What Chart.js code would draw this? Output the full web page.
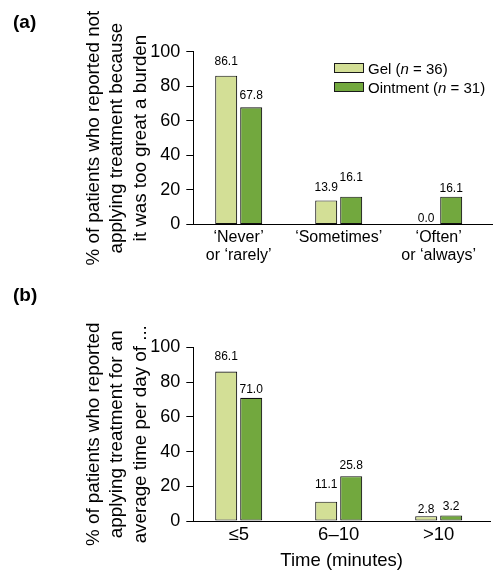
<!DOCTYPE html>
<html>
<head>
<meta charset="utf-8">
<script src="https://cdn.jsdelivr.net/npm/chart.js@4.4.1/dist/chart.umd.min.js"></script>
<style>
  body { margin: 0; background: #fff; font-family: "Liberation Sans", Arial, sans-serif; }
  #page { position: relative; width: 493px; height: 572px; overflow: hidden; }
  .panel { position: absolute; left: 13px; font-weight: bold; font-size: 19px; line-height: 19px; }
  .wrap { position: absolute; left: 0; width: 493px; }
  .key { position: absolute; width: 28px; height: 8px; border: 1px solid #1a1a1a; }
  .keytext { position: absolute; font-size: 15px; line-height: 15px; white-space: nowrap; }
</style>
</head>
<body>
<div id="page">
  <div class="wrap" style="top:0;height:280px"><canvas id="chartA"></canvas></div>
  <div class="wrap" style="top:280px;height:292px"><canvas id="chartB"></canvas></div>
  <div class="panel" style="top:12px">(a)</div>
  <div class="panel" style="top:285px">(b)</div>
  <div class="key" style="left:334px;top:63px;background:#d3df96"></div>
  <div class="keytext" style="left:368px;top:61px">Gel (<i>n</i> = 36)</div>
  <div class="key" style="left:334px;top:82px;background:#72a83e"></div>
  <div class="keytext" style="left:368px;top:80px">Ointment (<i>n</i> = 31)</div>
</div>
<script>
// DATA
var burdenCategories = [['\u2018Never\u2019', 'or \u2018rarely\u2019'], '\u2018Sometimes\u2019', ['\u2018Often\u2019', 'or \u2018always\u2019']];
var burdenGel = [86.1, 13.9, 0.0];
var burdenOintment = [67.8, 16.1, 16.1];

var timeCategories = ['\u22645', '6\u201310', '>10'];
var timeGel = [86.1, 11.1, 2.8];
var timeOintment = [71.0, 25.8, 3.2];

var yTicks = [0, 20, 40, 60, 80, 100];

// label nudges (px between bar top and value label)
var labelGapsA = [[10.7, 9.3, 3], [8.4, 16, 5]];
var labelGapsB = [[11.7, 14, 3], [4.4, 7.4, 5.7]];

var FONT = '"Liberation Sans", Arial, sans-serif';
var GEL = '#d3df96';
var OINT = '#72a83e';

Chart.defaults.color = '#000';
Chart.defaults.font.family = FONT;

function toPoints(values) {
  return values.map(function (v, i) { return {x: i, y: v}; });
}

// value labels above bars
var barValueLabels = {
  id: 'barValueLabels',
  afterDatasetsDraw: function (chart, args, opts) {
    var ctx = chart.ctx;
    ctx.save();
    ctx.font = '12px ' + FONT;
    ctx.fillStyle = '#000';
    ctx.textAlign = 'center';
    ctx.textBaseline = 'alphabetic';
    chart.data.datasets.forEach(function (ds, i) {
      chart.getDatasetMeta(i).data.forEach(function (bar, j) {
        var gap = opts.gaps ? opts.gaps[i][j] : 6;
        ctx.fillText(ds.data[j].y.toFixed(1), bar.x, bar.y - gap);
      });
    });
    ctx.restore();
  }
};

function makeChart(id, cfg) {
  return new Chart(document.getElementById(id), {
    type: 'bar',
    data: {
      datasets: [
        {
          label: 'Gel (n = 36)',
          data: toPoints(cfg.gel),
          backgroundColor: GEL,
          borderColor: '#111',
          borderWidth: 1.1,
          borderSkipped: false,
          categoryPercentage: 0.5,
          barPercentage: 0.88
        },
        {
          label: 'Ointment (n = 31)',
          data: toPoints(cfg.ointment),
          backgroundColor: OINT,
          borderColor: '#111',
          borderWidth: 1.1,
          borderSkipped: false,
          categoryPercentage: 0.5,
          barPercentage: 0.88
        }]
    },
    options: {
      responsive: true,
      maintainAspectRatio: false,
      animation: false,
      layout: { padding: { top: cfg.top, left: 80, right: cfg.right, bottom: 0 } },
      plugins: {
        legend: { display: false },
        tooltip: { enabled: false },
        barValueLabels: { gaps: cfg.gaps }
      },
      scales: {
        x: {
          type: 'linear',
          offset: false,
          min: -0.454,
          max: cfg.xMax,
          afterBuildTicks: function (axis) {
            axis.ticks = cfg.categories.map(function (c, i) { return {value: i}; });
          },
          afterFit: function (axis) { axis.height = cfg.xHeight; },
          ticks: {
            font: { size: cfg.xFont, lineHeight: cfg.xLine },
            padding: cfg.xPad,
            maxRotation: 0,
            autoSkip: false,
            callback: function (v) { return cfg.categories[v]; }
          },
          grid: { display: false, drawTicks: false, offset: false },
          border: { display: true, color: '#000', width: 1 },
          title: cfg.xTitle ? {
            display: true,
            text: cfg.xTitle,
            font: { size: 18.5, lineHeight: 1.08 },
            padding: { top: 0, bottom: 1.5 }
          } : { display: false }
        },
        y: {
          min: 0,
          max: 100,
          afterBuildTicks: function (axis) {
            var t = [];
            for (var v = 0; v <= 100; v += 10) t.push({value: v});
            axis.ticks = t;
          },
          afterFit: function (axis) { axis.width = 113.3; },
          ticks: {
            font: { size: 18 },
            padding: 6,
            callback: function (v) { return yTicks.indexOf(v) >= 0 ? String(v) : ''; }
          },
          grid: { drawOnChartArea: false, drawTicks: true, tickLength: 7, color: '#000' },
          border: { display: true, color: '#000', width: 1 },
          title: {
            display: true,
            text: cfg.yTitle,
            font: { size: 18.8, lineHeight: 1.25 },
            padding: { top: 1.6, bottom: 0 }
          }
        }
      }
    },
    plugins: [barValueLabels]
  });
}

makeChart('chartA', {
  categories: burdenCategories,
  gel: burdenGel,
  ointment: burdenOintment,
  gaps: labelGapsA,
  top: 51.7,
  right: 1,
  xMax: 2.533,
  xHeight: 55.5,
  xFont: 16,
  xLine: 1.1,
  xPad: 4.7,
  yTitle: ['% of patients who reported not', 'applying treatment because', 'it was too great a burden']
});

makeChart('chartB', {
  categories: timeCategories,
  gel: timeGel,
  ointment: timeOintment,
  gaps: labelGapsB,
  top: 67.5,
  right: 3,
  xMax: 2.513,
  xHeight: 51,
  xFont: 18.5,
  xLine: 1.08,
  xPad: 3.5,
  xTitle: 'Time (minutes)',
  yTitle: ['% of patients who reported', 'applying treatment for an', 'average time per day of ...']
});
</script>
</body>
</html>
